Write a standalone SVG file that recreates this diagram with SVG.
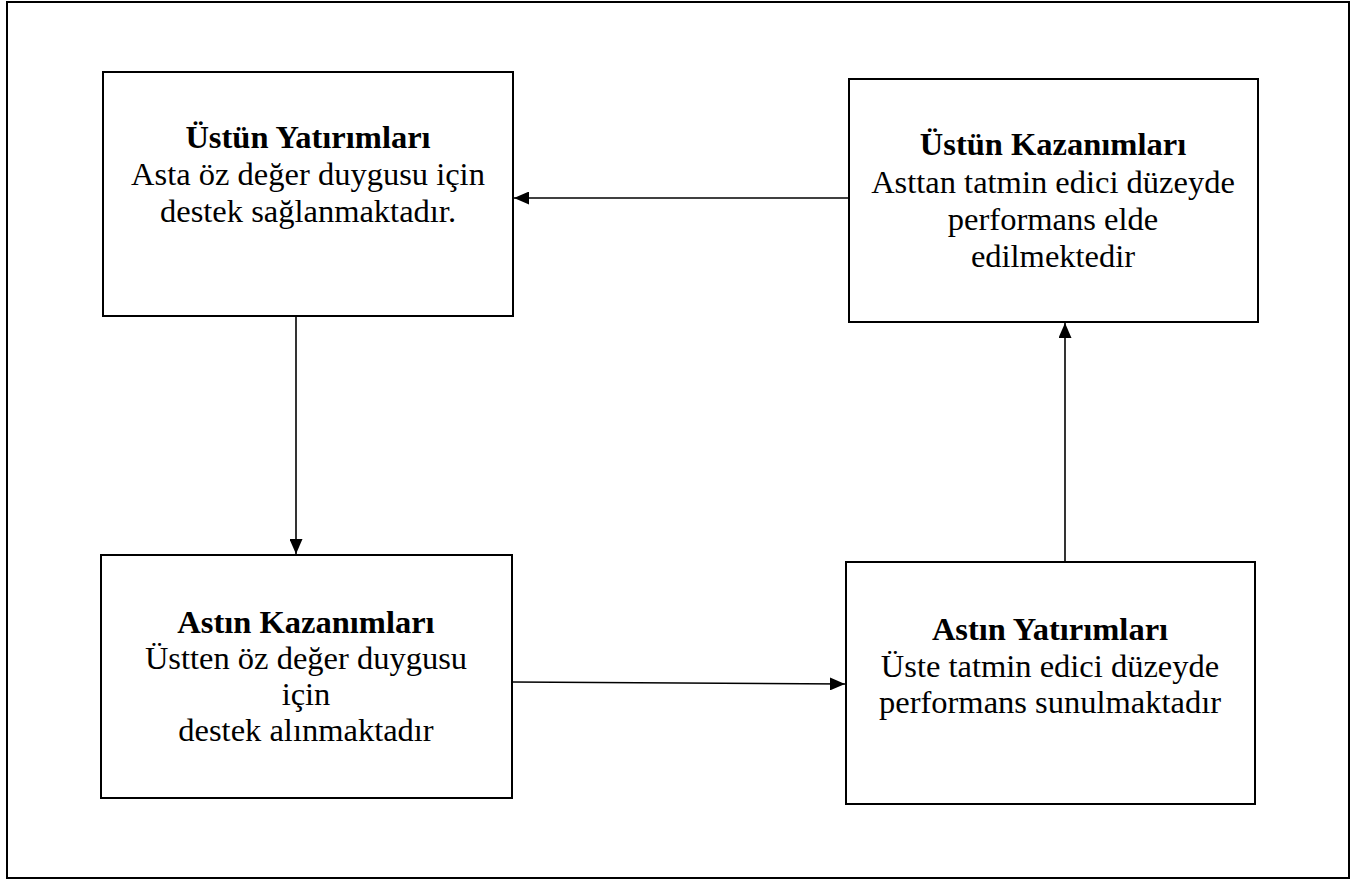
<svg xmlns="http://www.w3.org/2000/svg" width="1366" height="879" viewBox="0 0 1366 879">
<style>
.box{fill:#fff;stroke:#000;stroke-width:2}
.frame{fill:#fff;stroke:#000;stroke-width:2}
.t{font-family:"Liberation Serif","Times New Roman",serif;font-size:32.5px;fill:#000;text-anchor:middle}
.b{font-weight:bold}
.c{stroke:#000;stroke-width:1.6;fill:none;marker-end:url(#ah)}
</style>
<defs>
<marker id="ah" viewBox="0 0 15 13" refX="15" refY="6.5" markerWidth="15" markerHeight="13" markerUnits="userSpaceOnUse" orient="auto">
<path d="M0,0 L15,6.5 L0,13 Z" fill="#000"/>
</marker>
</defs>
<rect x="0" y="0" width="1366" height="879" fill="#fff"/>
<rect class="frame" x="7" y="2" width="1342" height="876"/>
<g id="ustun-yatirimlari">
<rect class="box" x="103" y="72" width="410" height="244"/>
<text class="t b" x="308" y="148">Üstün Yatırımları</text>
<text class="t" x="308" y="185">Asta öz değer duygusu için</text>
<text class="t" x="308" y="222">destek sağlanmaktadır.</text>
</g>
<g id="ustun-kazanimlari">
<rect class="box" x="849" y="79" width="409" height="243"/>
<text class="t b" x="1053" y="155">Üstün Kazanımları</text>
<text class="t" x="1053" y="193">Asttan tatmin edici düzeyde</text>
<text class="t" x="1053" y="230">performans elde</text>
<text class="t" x="1053" y="267">edilmektedir</text>
</g>
<g id="astin-kazanimlari">
<rect class="box" x="101" y="555" width="411" height="243"/>
<text class="t b" x="306" y="633">Astın Kazanımları</text>
<text class="t" x="306" y="669">Üstten öz değer duygusu</text>
<text class="t" x="306" y="705">için</text>
<text class="t" x="306" y="741">destek alınmaktadır</text>
</g>
<g id="astin-yatirimlari">
<rect class="box" x="846" y="562" width="409" height="242"/>
<text class="t b" x="1050" y="640">Astın Yatırımları</text>
<text class="t" x="1050" y="677">Üste tatmin edici düzeyde</text>
<text class="t" x="1050" y="713">performans sunulmaktadır</text>
</g>
<g id="connectors">
<line class="c" x1="849" y1="198" x2="514" y2="198"/>
<line class="c" x1="296" y1="316" x2="296" y2="554"/>
<line class="c" x1="512" y1="682" x2="845" y2="684"/>
<line class="c" x1="1065" y1="562" x2="1065" y2="323"/>
</g>
</svg>
